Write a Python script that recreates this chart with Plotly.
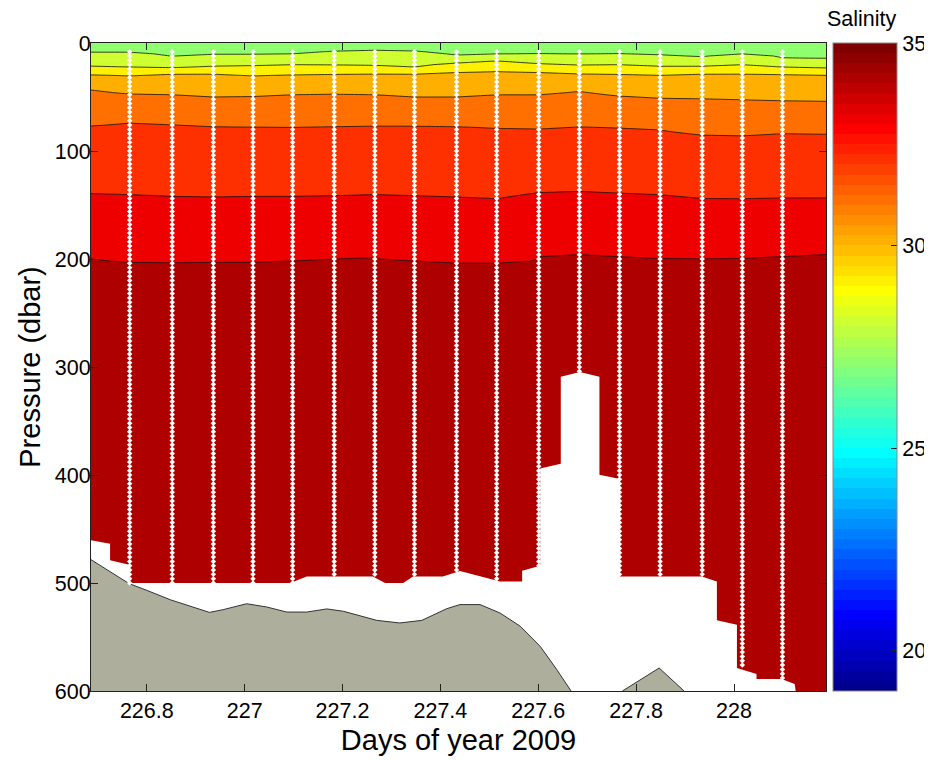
import numpy as np
import plotly.graph_objects as go

# ---------------- data ----------------
# CTD profile times (day of year 2009); first/last define the section edges
profile_day = [226.686, 226.765, 226.852, 226.936, 227.017, 227.098, 227.183,
               227.266, 227.347, 227.433, 227.515, 227.601, 227.684, 227.766,
               227.849, 227.935, 228.017, 228.099, 228.188]

# salinity of each contoured isohaline and its depth (dbar) at every profile
iso_levels = [28, 29, 30, 31, 32, 33, 34]
iso28 = [8.7, 8.7, 12.4, 10.8, 10.8, 10.0, 7.7, 6.8, 7.5, 11.7, 10.2, 9.9, 10.2, 9.9, 11.4, 13.3, 10.2, 13.9, 14.5]
iso29 = [21.6, 22.3, 23.2, 21.6, 21.0, 20.1, 20.4, 21.0, 22.3, 18.5, 16.4, 19.2, 20.5, 20.1, 21.6, 21.6, 20.1, 22.3, 23.2]
iso30 = [29.3, 30.3, 28.4, 28.4, 30.3, 29.3, 28.7, 28.4, 28.4, 26.9, 26.3, 26.9, 28.4, 28.7, 29.9, 28.4, 28.4, 28.7, 29.9]
iso31 = [43.2, 47.0, 47.9, 50.0, 49.4, 47.9, 47.2, 47.9, 50.0, 50.0, 48.0, 48.0, 44.5, 49.0, 51.0, 51.6, 52.5, 53.4, 54.0]
iso32 = [76.6, 74.1, 75.6, 77.2, 77.8, 78.1, 77.2, 76.6, 76.6, 77.2, 78.7, 79.5, 77.5, 78.5, 80.3, 85.0, 86.0, 84.0, 84.3]
iso33 = [139.5, 140.4, 142.0, 142.6, 142.0, 142.0, 141.4, 140.4, 141.4, 142.6, 144.2, 138.5, 137.4, 139.0, 140.5, 144.0, 144.2, 143.5, 143.5]
iso34 = [199.7, 202.2, 202.5, 202.2, 202.2, 201.5, 200.0, 198.1, 201.3, 203.0, 203.5, 197.6, 195.1, 197.5, 198.5, 199.1, 198.5, 197.0, 195.0]
surface_salinity = 27.6
bottom_salinity = 34.6

# deepest sample of the interior (dotted) profiles, dbar
profile_max_pres = [500, 500, 500, 500, 500, 494, 494, 494, 490, 497, 484, 305, 494, 494, 494, 579, 589]

# outline of the region without data (white)
nodata_day = [226.686, 226.725, 226.725, 226.764, 226.764, 227.093, 227.127, 227.262,
              227.287, 227.324, 227.344, 227.405, 227.440, 227.522, 227.567, 227.567,
              227.604, 227.604, 227.646, 227.646, 227.685, 227.725, 227.725, 227.767,
              227.767, 227.934, 227.965, 227.965, 228.006, 228.006, 228.046, 228.046,
              228.097, 228.124, 228.126, 226.686]
nodata_pres = [460.5, 463.6, 479.0, 483.0, 500.0, 500.0, 494.0, 494.0,
               500.0, 500.0, 494.0, 494.0, 489.0, 498.5, 498.5, 488.6,
               484.0, 394.0, 389.6, 309.0, 304.6, 309.0, 399.7, 403.7,
               494.0, 494.0, 498.5, 534.6, 538.6, 578.7, 584.3, 589.0,
               589.0, 593.5, 600.0, 600.0]

# bathymetry (sea floor), two visible parts
bathy1_day = [226.686, 226.764, 226.800, 226.848, 226.928, 226.956, 227.004, 227.045,
              227.086, 227.127, 227.168, 227.202, 227.270, 227.317, 227.362, 227.413,
              227.440, 227.481, 227.522, 227.563, 227.604, 227.638, 227.667]
bathy1_pres = [478.4, 500.6, 506.8, 515.5, 527.2, 524.7, 519.2, 522.2,
               526.9, 526.9, 524.0, 526.2, 534.6, 537.0, 534.6, 523.8,
               520.0, 520.0, 527.8, 540.0, 558.7, 580.3, 600.0]
bathy2_day = [227.772, 227.847, 227.898]
bathy2_pres = [600.0, 578.7, 600.0]

x_tick_vals = [226.8, 227.0, 227.2, 227.4, 227.6, 227.8, 228.0]
x_tick_text = ["226.8", "227", "227.2", "227.4", "227.6", "227.8", "228"]
y_tick_vals = [0, 100, 200, 300, 400, 500, 600]
cbar_tick_vals = [20, 25, 30, 35]
sal_min, sal_max = 19, 35

# ---------------- colormap (MATLAB jet, 64 colours) ----------------
def jet(m=64):
    n = int(np.ceil(m / 4))
    u = np.concatenate([np.arange(1, n + 1) / n, np.ones(n - 1), np.arange(n, 0, -1) / n])
    g = int(np.ceil(n / 2)) - (1 if m % 4 == 1 else 0) + np.arange(1, len(u) + 1)
    r = g + n
    b = g - n
    J = np.zeros((m, 3))
    J[r[r <= m] - 1, 0] = u[r <= m]
    J[g[g <= m] - 1, 1] = u[g <= m]
    J[b[b >= 1] - 1, 2] = u[b >= 1]
    return J

J = jet(64)
def rgb(c):
    return "rgb(%d,%d,%d)" % tuple(int(round(v * 255)) for v in c)

bar_scale = []
for i in range(64):
    bar_scale.append([i / 64, rgb(J[i])])
    bar_scale.append([(i + 1) / 64, rgb(J[i])])

# filled bands take the colour of their lower level (as MATLAB contourf)
nlev = sal_max - sal_min
fill_scale = []
for k in range(nlev):
    L = sal_min + k
    idx = int((L - sal_min) / (sal_max - sal_min) * 64)
    fill_scale.append([k / nlev, rgb(J[idx])])
    fill_scale.append([(k + 1) / nlev, rgb(J[idx])])

# ---------------- salinity section ----------------
pres = np.arange(0, 601, 2)
iso_depths = np.array([iso28, iso29, iso30, iso31, iso32, iso33, iso34])
Z = np.zeros((len(pres), len(profile_day)))
for j in range(len(profile_day)):
    xp = np.concatenate([[0], iso_depths[:, j], [600]])
    fp = np.concatenate([[surface_salinity], iso_levels, [bottom_salinity]])
    Z[:, j] = np.interp(pres, xp, fp)

FONT = "Liberation Sans, Arial, sans-serif"
fig = go.Figure()

fig.add_trace(go.Contour(
    x=profile_day, y=pres, z=Z,
    autocontour=False,
    contours=dict(start=sal_min, end=sal_max, size=1, coloring="fill", showlines=True),
    line=dict(color="#111111", width=0.8, smoothing=0),
    colorscale=fill_scale, showscale=False, hoverinfo="skip"))

fig.add_trace(go.Scatter(
    x=nodata_day, y=nodata_pres, mode="lines", fill="toself",
    fillcolor="white", line=dict(width=0, color="white"), hoverinfo="skip", showlegend=False))

for bd, bp in [(bathy1_day, bathy1_pres), (bathy2_day, bathy2_pres)]:
    fig.add_trace(go.Scatter(
        x=bd + [bd[-1], bd[0]], y=bp + [650, 650], mode="lines", fill="toself",
        fillcolor="#ADAE9B", line=dict(width=1, color="#333333"),
        hoverinfo="skip", showlegend=False))

# dotted sample positions
dot_x, dot_y = [], []
for t, pm in zip(profile_day[1:-1], profile_max_pres):
    ps = np.arange(8, pm + 0.1, 4)
    dot_x += [t] * len(ps)
    dot_y += list(ps)
fig.add_trace(go.Scatter(
    x=dot_x, y=dot_y, mode="markers",
    marker=dict(symbol="diamond", size=4.2, color="white", line=dict(width=0)),
    hoverinfo="skip", showlegend=False))

# colour bar
fig.add_trace(go.Scatter(
    x=[None], y=[None], mode="markers",
    marker=dict(color=[sal_min], cmin=sal_min, cmax=sal_max, colorscale=bar_scale,
                showscale=True,
                colorbar=dict(thickness=64, thicknessmode="pixels", len=1, lenmode="fraction",
                              y=0.5, yanchor="middle", x=1.0091, xanchor="left",
                              xpad=0, ypad=0, outlinewidth=1, outlinecolor="#888888",
                              tickvals=cbar_tick_vals, ticks="inside", ticklen=6,
                              tickcolor="#222222",
                              tickfont=dict(family=FONT, size=21.5, color="black"))),
    hoverinfo="skip", showlegend=False))

fig.add_annotation(text="Salinity", xref="paper", yref="paper", x=1.0486, y=1.0366,
                   xanchor="center", yanchor="middle", showarrow=False,
                   font=dict(family=FONT, size=21.5, color="black"))

# the page body adds an 8 px offset, so the figure is 8 px smaller/shifted
fig.update_layout(
    width=924, height=752,
    margin=dict(l=83, r=106, t=35, b=69, autoexpand=False),
    paper_bgcolor="white", plot_bgcolor="white",
    font=dict(family=FONT, size=21.5, color="black"),
    showlegend=False,
    xaxis=dict(range=[profile_day[0], profile_day[-1]], tickvals=x_tick_vals, ticktext=x_tick_text,
               ticks="inside", ticklen=7, tickcolor="#222222", showline=True, linecolor="#222222",
               linewidth=1, mirror="ticks", showgrid=False, zeroline=False, automargin=False,
               title=dict(text="Days of year 2009", font=dict(family=FONT, size=29), standoff=7)),
    yaxis=dict(range=[600, 0], tickvals=y_tick_vals,
               ticks="inside", ticklen=7, tickcolor="#222222", showline=True, linecolor="#222222",
               linewidth=1, mirror="ticks", showgrid=False, zeroline=False, automargin=False,
               ticklabelstandoff=-5,
               title=dict(text="Pressure (dbar)", font=dict(family=FONT, size=29), standoff=5)),
)

fig.write_html("out.html")
